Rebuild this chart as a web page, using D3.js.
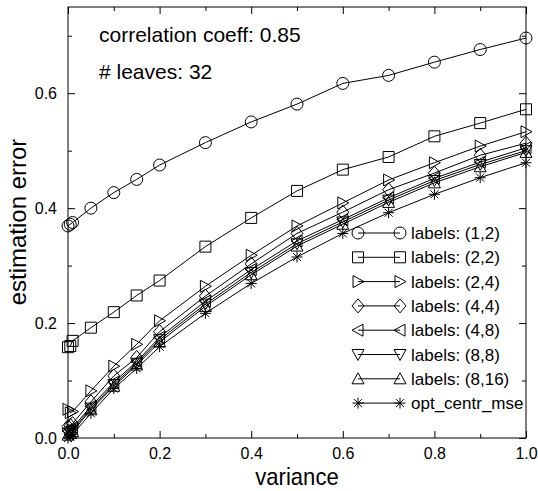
<!DOCTYPE html>
<html><head><meta charset="utf-8">
<script src="https://cdn.jsdelivr.net/npm/d3@7"></script>
<style>body{margin:0;background:#fff}svg{display:block;font-family:"Liberation Sans",Arial,sans-serif}</style>
</head><body><svg id="c" width="538" height="491"></svg>
<script>
const variance = [0, 0.005, 0.01, 0.05, 0.1, 0.15, 0.2, 0.3, 0.4, 0.5, 0.6, 0.7, 0.8, 0.9, 1.0];
const labels12  = [0.369, 0.372, 0.375, 0.400, 0.427, 0.450, 0.475, 0.514, 0.550, 0.581, 0.617, 0.631, 0.654, 0.676, 0.696];
const labels22  = [0.158, 0.160, 0.169, 0.192, 0.219, 0.248, 0.274, 0.333, 0.383, 0.430, 0.467, 0.489, 0.525, 0.548, 0.572];
const labels24  = [0.050, 0.044, 0.046, 0.082, 0.125, 0.163, 0.204, 0.264, 0.318, 0.369, 0.409, 0.449, 0.479, 0.508, 0.533];
const labels44  = [0.020, 0.022, 0.025, 0.063, 0.108, 0.140, 0.185, 0.247, 0.303, 0.356, 0.393, 0.432, 0.461, 0.492, 0.513];
const labels48  = [0.012, 0.015, 0.018, 0.055, 0.097, 0.133, 0.175, 0.238, 0.293, 0.343, 0.380, 0.418, 0.452, 0.480, 0.505];
const labels88  = [0.008, 0.011, 0.014, 0.052, 0.093, 0.130, 0.171, 0.233, 0.288, 0.338, 0.376, 0.414, 0.448, 0.476, 0.500];
const labels816 = [0.005, 0.008, 0.011, 0.049, 0.090, 0.127, 0.167, 0.229, 0.284, 0.334, 0.372, 0.410, 0.444, 0.472, 0.497];
const optCentr  = [0.000, 0.003, 0.006, 0.043, 0.086, 0.121, 0.159, 0.217, 0.269, 0.315, 0.356, 0.392, 0.424, 0.453, 0.479];
const seriesNames = ["labels: (1,2)","labels: (2,2)","labels: (2,4)","labels: (4,4)","labels: (4,8)","labels: (8,8)","labels: (8,16)","opt_centr_mse"];
const seriesMarkers = ["circle","square","triRight","diamond","triLeft","triDown","triUp","star"];
const seriesValues = [labels12, labels22, labels24, labels44, labels48, labels88, labels816, optCentr];
const xTicks = [0, 0.2, 0.4, 0.6, 0.8, 1.0];
const yTicks = [0, 0.2, 0.4, 0.6];
const xMinor = [0.1, 0.3, 0.5, 0.7, 0.9];
const yMinor = [0.1, 0.3, 0.5, 0.7];
const annotations = ["correlation coeff: 0.85", "# leaves: 32"];

const svg = d3.select("#c");
const L = 68, R = 526, T = 7, B = 438;
const x = d3.scaleLinear().domain([0, 1]).range([L, R]);
const y = d3.scaleLinear().domain([0, 0.75]).range([B, T]);

function markerPath(type) {
  switch (type) {
    case "circle": return "M6,0A6,6 0 1,1 -6,0A6,6 0 1,1 6,0Z";
    case "square": return "M-5.5,-5.5H5.5V5.5H-5.5Z";
    case "triRight": return "M-5,-6L6,0L-5,6Z";
    case "triLeft": return "M5,-6L-6,0L5,6Z";
    case "triDown": return "M-6,-5L6,-5L0,6Z";
    case "triUp": return "M-6,5L6,5L0,-6Z";
    case "diamond": return "M0,-7L6,0L0,7L-6,0Z";
    case "star": return "M-5.5,0H5.5M0,-5.5V5.5M-4,-4L4,4M-4,4L4,-4";
  }
}

// frame
svg.append("rect").attr("x", L).attr("y", T).attr("width", R - L).attr("height", B - T)
  .attr("fill", "none").attr("stroke", "#000").attr("stroke-width", 1);

// axes with inward ticks on all four sides
const g = svg.append("g");
g.append("g").attr("transform", `translate(0,${B})`)
  .call(d3.axisBottom(x).tickValues(xTicks).tickSizeInner(-7).tickSizeOuter(0).tickFormat(d3.format(".1f")).tickPadding(10))
  .call(s => { s.select(".domain").remove(); s.selectAll("text").attr("font-size", 16).attr("fill", "#000").attr("font-family", "Liberation Sans, Arial, sans-serif"); });
g.append("g").attr("transform", `translate(0,${B})`)
  .call(d3.axisBottom(x).tickValues(xMinor).tickSizeInner(-4).tickSizeOuter(0).tickFormat(""))
  .call(s => s.select(".domain").remove());
g.append("g").attr("transform", `translate(0,${T})`)
  .call(d3.axisTop(x).tickValues(xTicks).tickSizeInner(-7).tickSizeOuter(0).tickFormat(""))
  .call(s => s.select(".domain").remove());
g.append("g").attr("transform", `translate(0,${T})`)
  .call(d3.axisTop(x).tickValues(xMinor).tickSizeInner(-4).tickSizeOuter(0).tickFormat(""))
  .call(s => s.select(".domain").remove());
g.append("g").attr("transform", `translate(${L},0)`)
  .call(d3.axisLeft(y).tickValues(yTicks).tickSizeInner(-7).tickSizeOuter(0).tickFormat(d3.format(".1f")).tickPadding(11))
  .call(s => { s.select(".domain").remove(); s.selectAll("text").attr("font-size", 16).attr("fill", "#000").attr("font-family", "Liberation Sans, Arial, sans-serif"); });
g.append("g").attr("transform", `translate(${L},0)`)
  .call(d3.axisLeft(y).tickValues(yMinor).tickSizeInner(-4).tickSizeOuter(0).tickFormat(""))
  .call(s => s.select(".domain").remove());
g.append("g").attr("transform", `translate(${R},0)`)
  .call(d3.axisRight(y).tickValues(yTicks).tickSizeInner(-7).tickSizeOuter(0).tickFormat(""))
  .call(s => s.select(".domain").remove());
g.append("g").attr("transform", `translate(${R},0)`)
  .call(d3.axisRight(y).tickValues(yMinor).tickSizeInner(-4).tickSizeOuter(0).tickFormat(""))
  .call(s => s.select(".domain").remove());

// series
const line = d3.line().x((d, i) => x(variance[i])).y(d => y(d));
seriesValues.forEach((vals, k) => {
  const sg = svg.append("g");
  sg.append("path").attr("d", line(vals)).attr("fill", "none").attr("stroke", "#000").attr("stroke-width", 1);
  sg.selectAll("path.m").data(vals).join("path").attr("class", "m")
    .attr("transform", (d, i) => `translate(${x(variance[i])},${y(d)})`)
    .attr("d", markerPath(seriesMarkers[k]))
    .attr("fill", "none").attr("stroke", "#000").attr("stroke-width", 1);
});

// legend
const lg = svg.append("g");
seriesNames.forEach((name, k) => {
  const ly = 233 + k * 24.3;
  lg.append("line").attr("x1", 358).attr("x2", 400).attr("y1", ly).attr("y2", ly).attr("stroke", "#000");
  [358, 400].forEach(px => lg.append("path").attr("d", markerPath(seriesMarkers[k]))
    .attr("transform", `translate(${px},${ly})`).attr("fill", "none").attr("stroke", "#000"));
  lg.append("text").attr("x", 411).attr("y", ly + 6).attr("font-size", 17).text(name);
});

// annotations
annotations.forEach((t, i) => svg.append("text").attr("x", 99).attr("y", 42 + i * 37).attr("font-size", 21).text(t));

// axis titles
svg.append("text").attr("transform", "translate(297,485) scale(0.92,1)").attr("text-anchor", "middle").attr("font-size", 24).text("variance");
svg.append("text").attr("transform", "translate(26,222) rotate(-90)").attr("text-anchor", "middle").attr("font-size", 24).text("estimation error");
</script></body></html>
